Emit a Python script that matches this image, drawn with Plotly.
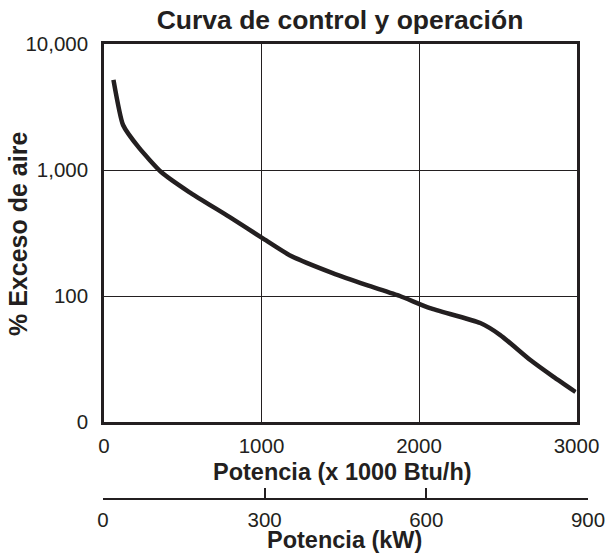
import plotly.graph_objects as go

# Data
potencia_btu = [60, 121, 223, 363, 541, 796, 1006, 1178, 1452, 1669, 1879, 2070, 2389, 2516, 2707, 2854, 2994]
exceso_aire = [5200, 2275, 1496, 964, 668, 424, 288, 211, 152, 122, 100, 80, 61, 49, 31, 22.8, 17.3]

btu_ticks = [0, 1000, 2000, 3000]
kw_ticks = [0, 300, 600, 900]
y_tickvals = [10, 100, 1000, 10000]
y_ticktext = ["0", "100", "1,000", "10,000"]

INK = "#231f20"
FONT = "Liberation Sans, Arial, sans-serif"
TICK = 20.5
BOLD = 23.5
TITLE = 26.5

W, H = 605, 556
L, T = 103, 44
R, B = 605 - 588, 556 - 498
pw = W - L - R
ph = H - T - B

def px_x(x):
    return (x - L) / pw

def px_y(y):
    return (H - B - y) / ph

fig = go.Figure()
fig.add_trace(go.Scatter(
    x=potencia_btu, y=exceso_aire, mode="lines",
    line=dict(color=INK, width=4.5, shape="spline", smoothing=0.5),
    showlegend=False, hoverinfo="skip",
))
# invisible trace to activate the kW axis
fig.add_trace(go.Scatter(x=[kw_ticks[0], kw_ticks[-1]], y=[0, 0], xaxis="x2", yaxis="y2",
                         mode="markers", marker=dict(opacity=0), showlegend=False, hoverinfo="skip"))

fig.update_layout(
    width=W, height=H,
    margin=dict(l=L, r=R, t=T, b=B, autoexpand=False),
    paper_bgcolor="white", plot_bgcolor="white",
    font=dict(family=FONT, color=INK, size=TICK),
    title=dict(text="<b>Curva de control y operación</b>", x=340 / W, xanchor="center",
               y=1 - 20 / H, yanchor="middle", font=dict(size=TITLE, color=INK)),
    xaxis=dict(
        domain=[px_x(104), px_x(576.5)], range=[0, 3000], tickvals=btu_ticks,
        showgrid=True, gridcolor=INK, gridwidth=1, automargin=False,
        showline=True, linecolor=INK, linewidth=2.5, mirror=True,
        ticks="outside", ticklen=4, tickcolor="rgba(0,0,0,0)", zeroline=False,
        tickfont=dict(size=TICK, color=INK),
    ),
    yaxis=dict(
        domain=[px_y(422), 1], type="log", range=[1, 4],
        tickvals=y_tickvals, ticktext=y_ticktext, automargin=False,
        showgrid=True, gridcolor=INK, gridwidth=1,
        showline=True, linecolor=INK, linewidth=2.5, mirror=True,
        ticks="outside", ticklen=9, tickcolor="rgba(0,0,0,0)", zeroline=False,
        tickfont=dict(size=TICK, color=INK),
    ),
    xaxis2=dict(
        domain=[0, 1], range=[0, 900], tickvals=kw_ticks, automargin=False,
        anchor="y2", showline=True, linecolor=INK, linewidth=1.8,
        ticks="inside", ticklen=10, tickwidth=1.5, tickcolor=INK,
        ticklabelstandoff=2, ticklabeloverflow="allow",
        showgrid=False, zeroline=False, tickfont=dict(size=TICK, color=INK),
    ),
    yaxis2=dict(domain=[0, 0.002], range=[0, 1], visible=False, fixedrange=True, automargin=False),
    annotations=[
        dict(text="<b>Potencia (x 1000 Btu/h)</b>", xref="paper", yref="paper",
             x=px_x(342.5), y=px_y(472), xanchor="center", yanchor="middle",
             showarrow=False, font=dict(size=BOLD, color=INK)),
        dict(text="<b>Potencia (kW)</b>", xref="paper", yref="paper",
             x=px_x(344.5), y=px_y(540), xanchor="center", yanchor="middle",
             showarrow=False, font=dict(size=BOLD, color=INK)),
        dict(text="<b>% Exceso de aire</b>", xref="paper", yref="paper",
             x=px_x(18), y=px_y(234), xanchor="center", yanchor="middle",
             textangle=-90, showarrow=False, font=dict(size=25, color=INK)),
    ],
)

# remove the default 8px page margin so the figure sits at the window's top-left corner
fig.write_html("out.html", config={"displayModeBar": False},
               post_script="document.body.style.margin='0';")
